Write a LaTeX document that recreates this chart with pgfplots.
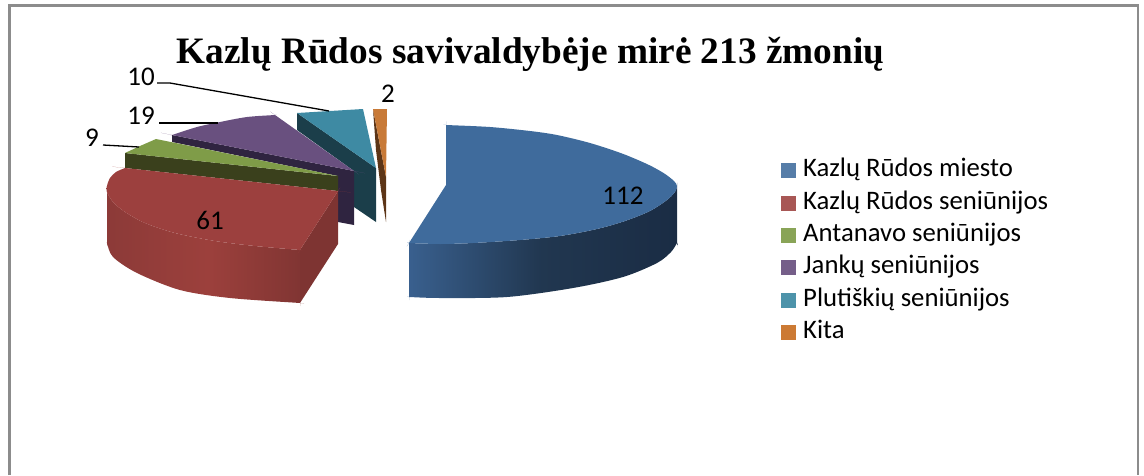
\documentclass[border=0pt]{standalone}
\usepackage{fontspec}
\setmainfont{Carlito}
\newfontfamily\titlefont{Liberation Serif}
\usepackage{pgfplots}
\pgfplotsset{compat=1.18}
\definecolor{bT}{HTML}{3F6B9C}\definecolor{bS1}{HTML}{3A6190}\definecolor{bS2}{HTML}{213750}\definecolor{bS3}{HTML}{1A2C44}
\definecolor{rT}{HTML}{9C403E}\definecolor{rS1}{HTML}{8C3A38}\definecolor{rS2}{HTML}{9C403C}\definecolor{rS3}{HTML}{7E3432}
\definecolor{gT}{HTML}{7F9C48}\definecolor{gS}{HTML}{3A401C}
\definecolor{pT}{HTML}{69507F}\definecolor{pS}{HTML}{2F2440}
\definecolor{tT}{HTML}{3E8AA3}\definecolor{tS}{HTML}{1B3E4A}
\definecolor{oT}{HTML}{C87A38}\definecolor{oS}{HTML}{5C3517}
\definecolor{frameC}{HTML}{8C8C8C}
\begin{document}
\begin{tikzpicture}
\begin{axis}[
  scale only axis, width=1144pt, height=475pt,
  xmin=0, xmax=1144, ymin=0, ymax=475, y dir=reverse,
  axis lines=none, clip=true,
  legend style={at={(axis cs:781,158.5)}, anchor=north west, draw=none, fill=none,
    font=\fontsize{26.7}{28}\selectfont, row sep=8.4pt, inner sep=0pt,
    nodes={inner sep=0pt, text height=18pt, text depth=6pt},
    /tikz/column 1/.style={column sep=7pt}},
  legend cell align=left,
  legend image code/.code={\fill[#1,draw=none] (0pt,-7.5pt) rectangle (15pt,7.5pt);},
]
% canvas corners
\addplot[draw=none, forget plot] coordinates {(0,0) (1144,475)};
% frame
\addplot[frameC, line width=2.4pt, forget plot] coordinates {(9.5,475) (9.5,5.5) (1138,5.5) (1138,475)};
% --- sides (back to front) ---
\addplot[fill=oS, draw=none, forget plot] coordinates {(373,109) (386,177) (386,222) (381,190) (376,150) (373,109)};
\addplot[fill=tS, draw=none, forget plot] coordinates {(297,113) (376,168) (376,222) (354,207) (354,171) (297,130) (297,113)};
\addplot[fill=pS, draw=none, forget plot] coordinates {(172,135) (354,171) (354,225) (338,222) (338,176) (172,142) (172,135)};
\addplot[fill=gS, draw=none, forget plot] coordinates {(125,153) (338,176) (338,191) (125,168) (125,153)};
% red outer
\addplot[smooth, tension=0.5, left color=rS1, right color=rS3, middle color=rS2, draw=none, forget plot] coordinates {(107,186) (107,186) (107,186) (107,192) (113,202) (125,212) (145,223) (175,233) (215,241) (255,246) (300,250) (300,250) (300,250) (300,303) (300,303) (300,303) (230,298) (180,290) (137,273) (113,257) (107,243) (107,243) (107,243) (107,186) (107,186)};
\addplot[fill=rS3, draw=none, forget plot] coordinates {(300,250) (338,191) (338,244) (300,303) (300,250)};
% blue outer
\addplot[smooth, tension=0.5, left color=bS1, right color=bS3, middle color=bS2, draw=none, forget plot] coordinates {(677,186) (677,186) (677,186) (675,192) (667,200) (650,211) (625,221) (597,229) (560,236) (520,240) (473,243) (440,244) (409,243) (409,243) (409,243) (409,297) (409,297) (409,297) (440,298) (507,297) (573,288) (623,277) (657,263) (671,252) (677,243) (677,243) (677,243) (677,186) (677,186)};
% --- tops ---
\addplot[smooth, tension=0.5, fill=bT, draw=none, forget plot] coordinates {(446,125) (446,125) (446,125) (490,127) (530,131) (557,135) (590,143) (622,153.5) (648,164.5) (664,173.3) (674,181) (677,186) (675,192) (667,200) (650,211) (625,221) (597,229) (560,236) (520,240) (473,243) (440,244) (409,243) (409,243) (409,243) (446,185) (446,185) (446,185) (446,125) (446,125)};
\addplot[smooth, tension=0.5, fill=rT, draw=none, forget plot] coordinates {(125,168) (125,168) (125,168) (116,172) (110,178) (107,186) (107,192) (113,202) (125,212) (145,223) (175,233) (215,241) (255,246) (300,250) (300,250) (300,250) (338,191) (338,191) (338,191) (125,168) (125,168)};
\addplot[fill=gT, draw=none, forget plot] coordinates {(125,153) (140,146) (156,139) (338,176) (125,153)};
\addplot[smooth, tension=0.5, fill=pT, draw=none, forget plot] coordinates {(172,135) (172,135) (172,135) (197,127) (220,122) (247,117) (275,115) (275,115) (275,115) (354,171) (354,171) (354,171) (172,135) (172,135)};
\addplot[fill=tT, draw=none, forget plot] coordinates {(297,113) (330,111) (363,109) (376,168) (297,113)};
\addplot[fill=oT, draw=none, forget plot] coordinates {(373,109) (387,109) (386,177) (373,109)};
% leader lines
\addplot[black, line width=1.3pt, forget plot] coordinates {(103,145) (139,147)};
\addplot[black, line width=1.3pt, forget plot] coordinates {(159,123) (218,123)};
\addplot[black, line width=1.3pt, forget plot] coordinates {(157,83) (170,83) (329,111)};
% legend
\addlegendimage{fill=bT!88!white}\addlegendentry{Kazlų Rūdos miesto}
\addlegendimage{fill=rT!88!white}\addlegendentry{Kazlų Rūdos seniūnijos}
\addlegendimage{fill=gT!92!white}\addlegendentry{Antanavo seniūnijos}
\addlegendimage{fill=pT!92!white}\addlegendentry{Jankų seniūnijos}
\addlegendimage{fill=tT!92!white}\addlegendentry{Plutiškių seniūnijos}
\addlegendimage{fill=oT!92!orange}\addlegendentry{Kita}
% text
\node[font=\titlefont\bfseries\fontsize{37.3}{40}\selectfont] at (axis cs:530.5,54) {Kazlų Rūdos savivaldybėje mirė 213 žmonių};
\node[font=\fontsize{27}{29}\selectfont] at (axis cs:623,196) {112};
\node[font=\fontsize{27}{29}\selectfont] at (axis cs:210,220) {61};
\node[font=\fontsize{27}{29}\selectfont] at (axis cs:92,138) {9};
\node[font=\fontsize{27}{29}\selectfont] at (axis cs:141,116) {19};
\node[font=\fontsize{27}{29}\selectfont] at (axis cs:141,77) {10};
\node[font=\fontsize{27}{29}\selectfont] at (axis cs:388,94) {2};
\end{axis}
\end{tikzpicture}
\end{document}
